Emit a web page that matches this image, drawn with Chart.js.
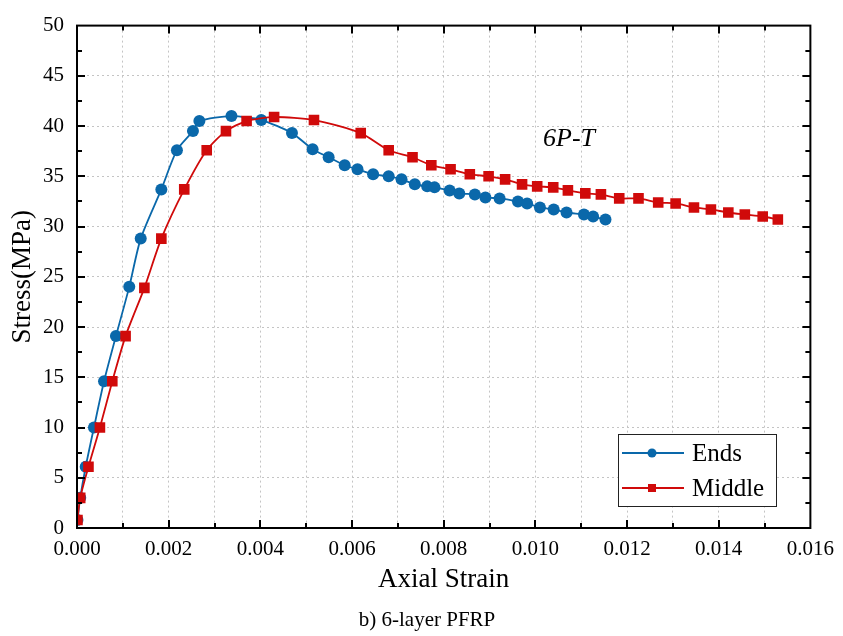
<!DOCTYPE html>
<html>
<head>
<meta charset="utf-8">
<script src="https://cdn.jsdelivr.net/npm/chart.js@4.4.1/dist/chart.umd.min.js"></script>
<style>
  html, body { margin: 0; padding: 0; background: #fff; }
  #wrap { width: 843px; height: 636px; }
</style>
</head>
<body>
<div id="wrap"><canvas id="chart" width="843" height="636"></canvas></div>
<script>
// data
const endsStrain = [0.00001, 0.00007, 0.00019, 0.00037, 0.00059, 0.00085, 0.00114, 0.00139, 0.00184, 0.00218,
    0.00253, 0.00267, 0.00337, 0.00402, 0.00469, 0.00514, 0.00549, 0.00584, 0.00612, 0.00646,
    0.00680, 0.00708, 0.00737, 0.00764, 0.00780, 0.00813, 0.00834, 0.00868, 0.00891, 0.00922,
    0.00962, 0.00982, 0.0101, 0.0104, 0.01068, 0.01106, 0.01126, 0.01153];
const endsStress = [0.8, 3.0, 6.1, 10.0, 14.6, 19.1, 24.0, 28.8, 33.7, 37.6,
    39.5, 40.5, 41.0, 40.6, 39.3, 37.7, 36.9, 36.1, 35.7, 35.2,
    35.0, 34.7, 34.2, 34.0, 33.9, 33.6, 33.3, 33.2, 32.9, 32.8,
    32.5, 32.3, 31.9, 31.7, 31.4, 31.2, 31.0, 30.7];

const middleStrain = [0.00001, 0.00007, 0.00025, 0.0005, 0.00077, 0.00106, 0.00147, 0.00184, 0.00234, 0.00283,
    0.00325, 0.0037, 0.0043, 0.00517, 0.00619, 0.0068, 0.00732, 0.00773, 0.00815, 0.00857,
    0.00898, 0.00934, 0.00971, 0.01004, 0.01039, 0.01071, 0.01109, 0.01143, 0.01183, 0.01225,
    0.01268, 0.01306, 0.01346, 0.01383, 0.01421, 0.01457, 0.01496, 0.01529];
const middleStress = [0.8, 3.0, 6.1, 10.0, 14.6, 19.1, 23.9, 28.8, 33.7, 37.6,
    39.5, 40.5, 40.9, 40.6, 39.3, 37.6, 36.9, 36.1, 35.7, 35.2,
    35.0, 34.7, 34.2, 34.0, 33.9, 33.6, 33.3, 33.2, 32.8, 32.8,
    32.4, 32.3, 31.9, 31.7, 31.4, 31.2, 31.0, 30.7];

const seriesNames = ['Ends', 'Middle'];
const xTitle = 'Axial Strain';
const yTitle = 'Stress(MPa)';
const noteText = '6P-T';
const captionText = 'b) 6-layer PFRP';

const BLUE = '#0a68aa';
const RED = '#d00a0a';
const SERIF = '"Liberation Serif", "Times New Roman", serif';

function toPoints(xs, ys) {
    return xs.map((x, i) => ({ x: x, y: ys[i] }));
}

//frame, inward ticks, legend and texts
const decorPlugin = {
    id: 'decor',
    afterDraw(chart) {
        const ctx = chart.ctx;
        const a = chart.chartArea;
        const xs = chart.scales.x;
        const ys = chart.scales.y;
        ctx.save();
        ctx.strokeStyle = '#000';
        ctx.lineWidth = 2;

        //ticks on all four sides
        ctx.beginPath();
        xs.ticks.forEach((t, i) => {
            if (i === 0 || i === xs.ticks.length - 1) return;
            const px = Math.round(xs.getPixelForValue(t.value));
            const len = i % 2 === 0 ? 8 : 5;
            ctx.moveTo(px, a.bottom); ctx.lineTo(px, a.bottom - len);
            ctx.moveTo(px, a.top); ctx.lineTo(px, a.top + len);
        });
        ys.ticks.forEach((t, i) => {
            if (i === 0 || i === ys.ticks.length - 1) return;
            const py = Math.round(ys.getPixelForValue(t.value));
            const len = i % 2 === 0 ? 8 : 5;
            ctx.moveTo(a.left, py); ctx.lineTo(a.left + len, py);
            ctx.moveTo(a.right, py); ctx.lineTo(a.right - len, py);
        });
        ctx.stroke();
        ctx.strokeRect(a.left, a.top, a.right - a.left, a.bottom - a.top);

        //note
        ctx.fillStyle = '#000';
        ctx.font = 'italic 26px ' + SERIF;
        ctx.textAlign = 'left';
        ctx.textBaseline = 'middle';
        ctx.fillText(noteText, 543, 139);

        //legend box
        const lx = 618, ly = 434, lw = 158, lh = 72;
        ctx.fillStyle = '#fff';
        ctx.fillRect(lx, ly, lw, lh);
        ctx.lineWidth = 1;
        ctx.strokeStyle = '#222';
        ctx.strokeRect(lx + 0.5, ly + 0.5, lw, lh);
        const rows = [
            { name: seriesNames[0], color: BLUE, y: 453, shape: 'circle' },
            { name: seriesNames[1], color: RED, y: 488, shape: 'rect' }
        ];
        rows.forEach(r => {
            ctx.strokeStyle = r.color;
            ctx.lineWidth = 1.8;
            ctx.beginPath();
            ctx.moveTo(622, r.y); ctx.lineTo(684, r.y);
            ctx.stroke();
            ctx.fillStyle = r.color;
            if (r.shape === 'circle') {
                ctx.beginPath();
                ctx.arc(652, r.y, 4.5, 0, Math.PI * 2);
                ctx.fill();
            } else {
                ctx.fillRect(648, r.y - 4, 8, 8);
            }
            ctx.fillStyle = '#000';
            ctx.font = '25px ' + SERIF;
            ctx.fillText(r.name, 692, r.y + 1);
        });

        //caption
        ctx.font = '21px ' + SERIF;
        ctx.textAlign = 'center';
        ctx.fillText(captionText, 427, 620);
        ctx.restore();
    }
};

const gridColor = '#c4c4c4';

new Chart(document.getElementById('chart'), {
    type: 'line',
    data: {
        datasets: [{
            label: seriesNames[0],
            data: toPoints(endsStrain, endsStress),
            borderColor: BLUE,
            backgroundColor: BLUE,
            borderWidth: 1.8,
            pointStyle: 'circle',
            pointRadius: 6,
            pointBorderWidth: 0,
            tension: 0.25,
            order: 1
        }, {
            label: seriesNames[1],
            data: toPoints(middleStrain, middleStress),
            borderColor: RED,
            backgroundColor: RED,
            borderWidth: 1.8,
            pointStyle: 'rect',
            pointRadius: 7.5,
            pointBorderWidth: 0,
            tension: 0.25,
            order: 0
        }]
    },
    options: {
        responsive: false,
        animation: false,
        layout: { padding: { top: 17, right: 32, bottom: 36, left: 0 } },
        plugins: {
            legend: { display: false },
            tooltip: { enabled: false }
        },
        scales: {
            x: {
                type: 'linear',
                min: 0,
                max: 0.016,
                afterFit: s => { s.height = 72; },
                border: { display: false, dash: [2, 3] },
                grid: {
                    drawTicks: false,
                    color: c => (c.index === 0 || c.index === 16) ? 'rgba(0,0,0,0)' : gridColor,
                    lineWidth: 1
                },
                ticks: {
                    stepSize: 0.001,
                    autoSkip: false,
                    maxRotation: 0,
                    padding: 9,
                    color: '#000',
                    font: { family: SERIF, size: 21 },
                    callback: (v, i) => i % 2 === 0 ? v.toFixed(3) : ''
                },
                title: {
                    display: true,
                    text: xTitle,
                    color: '#000',
                    font: { family: SERIF, size: 27 },
                    padding: { top: 0, bottom: 4 }
                }
            },
            y: {
                min: 0,
                max: 50,
                afterFit: s => { s.width = 77; },
                border: { display: false, dash: [2, 3] },
                grid: {
                    drawTicks: false,
                    color: c => (c.index % 2 !== 0 || c.index === 0 || c.index === 20) ? 'rgba(0,0,0,0)' : gridColor,
                    lineWidth: 1
                },
                ticks: {
                    stepSize: 2.5,
                    autoSkip: false,
                    padding: 13,
                    color: '#000',
                    font: { family: SERIF, size: 21 },
                    callback: (v, i) => i % 2 === 0 ? String(v) : ''
                },
                title: {
                    display: true,
                    text: yTitle,
                    color: '#000',
                    font: { family: SERIF, size: 27 },
                    padding: { top: 7, bottom: 0 }
                }
            }
        }
    },
    plugins: [decorPlugin]
});
</script>
</body>
</html>
